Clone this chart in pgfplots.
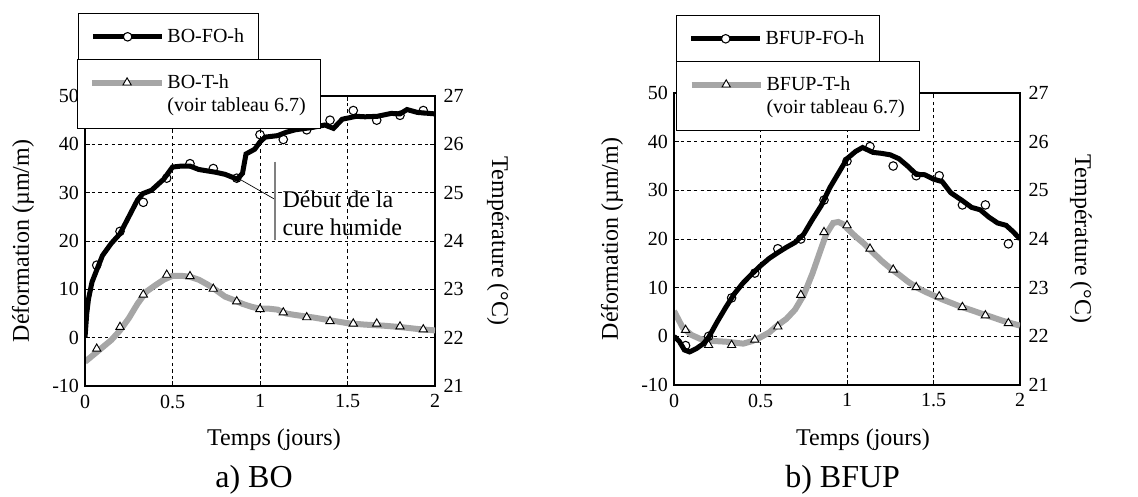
\documentclass[border=0pt]{standalone}
\usepackage{fontspec}
\setmainfont{Liberation Serif}
\usepackage{pgfplots}
\pgfplotsset{compat=1.18}
\definecolor{tgray}{RGB}{166,166,166}

% ---------- data (x in days) ----------
% BO: deformation (micro-strain)
\pgfplotstableread{
x y
0 0
0.01 5
0.02 8
0.04 11.5
0.067 14
0.1 17
0.15 19.5
0.2 21.5
0.25 25
0.3 28.5
0.33 29.8
0.38 30.5
0.45 32.8
0.5 35.3
0.55 35.5
0.6 35.5
0.65 34.8
0.7 34.5
0.75 34.2
0.8 33.8
0.87 32.8
0.9 34
0.92 38
0.97 39
1.0 40.5
1.03 41.5
1.1 41.8
1.15 42.5
1.2 43
1.3 43.5
1.37 44
1.42 43.3
1.47 45.2
1.55 45.8
1.6 45.7
1.67 45.8
1.75 46.4
1.8 46.3
1.84 47.2
1.9 46.6
2.0 46.3
}\BOdef
\pgfplotstableread{
x y
0.067 15
0.2 22
0.333 28
0.467 33
0.6 36
0.733 35
0.867 33
1.0 42
1.133 41
1.267 43
1.4 45
1.533 47
1.667 45
1.8 46
1.933 47
}\BOdefm
% BO: temperature (deg C)
\pgfplotstableread{
x t
0 21.5
0.05 21.65
0.1 21.8
0.15 21.95
0.2 22.15
0.25 22.4
0.3 22.7
0.35 22.95
0.4 23.08
0.45 23.2
0.5 23.28
0.55 23.28
0.6 23.26
0.65 23.2
0.7 23.1
0.75 22.98
0.8 22.85
0.85 22.78
0.9 22.7
0.95 22.64
1.0 22.6
1.05 22.6
1.1 22.58
1.15 22.5
1.2 22.47
1.3 22.42
1.4 22.36
1.5 22.3
1.6 22.27
1.7 22.25
1.8 22.22
1.9 22.18
2.0 22.15
}\BOtemp
\pgfplotstableread{
x t
0.067 21.77
0.2 22.22
0.333 22.89
0.467 23.3
0.6 23.27
0.733 23.01
0.867 22.75
1.0 22.59
1.133 22.52
1.267 22.42
1.4 22.34
1.533 22.29
1.667 22.29
1.8 22.23
1.933 22.17
}\BOtempm
% BFUP: deformation
\pgfplotstableread{
x y
0 0
0.03 -1
0.06 -2.8
0.09 -3.2
0.13 -2.5
0.17 -1.5
0.2 -0.2
0.25 3
0.3 6
0.35 8.8
0.4 11
0.45 12.8
0.5 14.5
0.55 16
0.6 17.2
0.65 18.3
0.7 19.3
0.75 21
0.8 24
0.85 26.8
0.9 30.5
0.95 33.5
1.0 36.5
1.05 38
1.09 38.8
1.15 37.8
1.2 37.6
1.25 37.3
1.3 36.5
1.35 35
1.4 33.3
1.45 33.2
1.5 32.3
1.55 31.8
1.6 29.5
1.67 27.8
1.72 26.5
1.77 26
1.82 24.5
1.87 23.3
1.92 22.8
1.96 21.5
2.0 20
}\BFdef
\pgfplotstableread{
x y
0.067 -1.9
0.2 0
0.333 7.9
0.467 13
0.6 18
0.733 20
0.867 28
1.0 36
1.133 39
1.267 35
1.4 33
1.533 33
1.667 27
1.8 27
1.933 19
}\BFdefm
% BFUP: temperature
\pgfplotstableread{
x t
0 22.52
0.05 22.18
0.1 22.03
0.15 21.95
0.2 21.91
0.3 21.89
0.35 21.87
0.4 21.85
0.45 21.9
0.5 21.98
0.55 22.08
0.6 22.23
0.65 22.36
0.7 22.55
0.75 22.85
0.8 23.29
0.85 23.8
0.88 24.1
0.92 24.33
0.95 24.35
0.98 24.3
1.0 24.22
1.05 24.05
1.1 23.9
1.15 23.72
1.2 23.55
1.25 23.4
1.3 23.27
1.35 23.13
1.4 23.01
1.45 22.92
1.5 22.84
1.55 22.76
1.6 22.69
1.65 22.62
1.7 22.56
1.75 22.5
1.8 22.44
1.85 22.38
1.9 22.32
1.95 22.27
2.0 22.22
}\BFtemp
\pgfplotstableread{
x t
0.067 22.13
0.2 21.82
0.333 21.82
0.467 21.93
0.6 22.2
0.733 22.85
0.867 24.14
1.0 24.28
1.133 23.8
1.267 23.37
1.4 23.01
1.533 22.82
1.667 22.6
1.8 22.43
1.933 22.27
}\BFtempm

\pgfplotsset{
  base/.style={
    scale only axis, xmin=0, xmax=2,
    /pgf/number format/assume math mode=true,
    tick label style={font=\fontsize{15}{17}\selectfont},
    label style={font=\fontsize{18}{20}\selectfont},
    axis line style={line width=0.9pt},
    major tick length=4pt,
    tick style={black, line width=0.6pt},
  },
  tempax/.style={base,
    ymin=21, ymax=27, ytick={21,22,...,27},
    xtick={0,0.5,1,1.5,2},
    yticklabel pos=right,
    xticklabel style={yshift=-3pt},
    yticklabel style={xshift=3pt},
    grid=major,
    grid style={black, line width=0.6pt, dash pattern=on 2.6pt off 2.4pt},
    xlabel={Temps (jours)},
    ylabel={Température (°C)},
  },
  defax/.style={base,
    ymin=-10, ymax=50, ytick={-10,0,...,50},
    hide x axis, axis y line*=left,
    yticklabel style={xshift=-1pt},
    ylabel={Déformation (µm/m)},
  },
  legbase/.style={
    legend cell align=left,
    legend style={draw=black, line width=0.7pt, fill=white,
      font=\fontsize{15}{17}\selectfont, anchor=north west,
      inner xsep=9pt, inner ysep=9.5pt, row sep=1pt},
    legend image code/.code={\draw[mark repeat=2,mark phase=2,##1] plot coordinates {(0pt,0pt) (26pt,0pt) (52pt,0pt)};},
  },
  blk/.style={black, line width=3.75pt},
  gry/.style={tgray, line width=4.5pt},
  cmk/.style={only marks, mark=o, mark size=3.2pt, mark options={draw=black, fill=white, line width=0.8pt}},
  tmk/.style={only marks, mark=triangle*, mark size=3.6pt, mark options={draw=black, fill=white, line width=0.7pt}},
}

\begin{document}
\begin{tikzpicture}
\useasboundingbox (0,0) rectangle (853.5pt,-372pt);

% ================= a) BO =================
\begin{axis}[tempax, at={(63.75pt,-289.5pt)}, anchor=south west,
  width=262.5pt, height=217.5pt,
  xlabel style={at={(axis description cs:0.54,0)}, anchor=center, yshift=-40.5pt},
  ylabel style={at={(axis description cs:1.18,0.5)}, anchor=center, rotate=180}]
  \addplot[gry, forget plot] table[x=x,y=t]{\BOtemp};
  \addplot[tmk, forget plot] table[x=x,y=t]{\BOtempm};
\end{axis}
\begin{axis}[defax, legbase, at={(63.75pt,-289.5pt)}, anchor=south west,
  width=262.5pt, height=217.5pt,
  ylabel style={at={(axis description cs:-0.177,0.5)}, anchor=center},
  legend style={at={(axis description cs:-0.02,1.286)}}]
  \addplot[blk, forget plot] table[x=x,y=y]{\BOdef};
  \addplot[cmk, forget plot] table[x=x,y=y]{\BOdefm};
  \addlegendimage{black, line width=3.75pt, mark=*, mark size=3.2pt, mark options={draw=black, fill=white, line width=0.8pt}}
  \addlegendentry{BO-FO-h}
  \draw[black, line width=0.5pt] (axis cs:0.869,33.1) -- (axis cs:1.086,28.6);
  \draw[gray, line width=1pt] (axis cs:1.086,36.4) -- (axis cs:1.086,20.3);
  \node[anchor=west, font=\fontsize{18}{20}\selectfont, inner sep=1pt] at (axis cs:1.12,28.6) {Début de la};
  \node[anchor=west, font=\fontsize{18}{20}\selectfont, inner sep=1pt] at (axis cs:1.12,22.8) {cure humide};
\end{axis}
\begin{axis}[base, legbase, hide axis, ymin=0, ymax=1, at={(63.75pt,-289.5pt)}, anchor=south west,
  width=262.5pt, height=217.5pt,
  legend style={at={(axis description cs:-0.023,1.128)}}]
  \addlegendimage{tgray, line width=4.5pt, mark=triangle*, mark size=3.6pt, mark options={draw=black, fill=white, line width=0.7pt}}
  \addlegendentry{BO-T-h}
  \addlegendimage{empty legend}
  \addlegendentry{(voir tableau 6.7)}
\end{axis}
\node[font=\fontsize{24}{27}\selectfont, anchor=base] at (190.5pt,-365.5pt) {a) BO};

% ================= b) BFUP =================
\begin{axis}[tempax, at={(505.5pt,-288.75pt)}, anchor=south west,
  width=259.5pt, height=219pt,
  xlabel style={at={(axis description cs:0.546,0)}, anchor=center, yshift=-41pt},
  ylabel style={at={(axis description cs:1.176,0.5)}, anchor=center, rotate=180}]
  \addplot[gry, forget plot] table[x=x,y=t]{\BFtemp};
  \addplot[tmk, forget plot] table[x=x,y=t]{\BFtempm};
\end{axis}
\begin{axis}[defax, legbase, at={(505.5pt,-288.75pt)}, anchor=south west,
  width=259.5pt, height=219pt,
  ylabel style={at={(axis description cs:-0.179,0.5)}, anchor=center},
  legend style={at={(axis description cs:0.006,1.267)}}]
  \addplot[blk, forget plot] table[x=x,y=y]{\BFdef};
  \addplot[cmk, forget plot] table[x=x,y=y]{\BFdefm};
  \addlegendimage{black, line width=3.75pt, mark=*, mark size=3.2pt, mark options={draw=black, fill=white, line width=0.8pt}}
  \addlegendentry{BFUP-FO-h}
\end{axis}
\begin{axis}[base, legbase, hide axis, ymin=0, ymax=1, at={(505.5pt,-288.75pt)}, anchor=south west,
  width=259.5pt, height=219pt,
  legend style={at={(axis description cs:0.006,1.11)}}]
  \addlegendimage{tgray, line width=4.5pt, mark=triangle*, mark size=3.6pt, mark options={draw=black, fill=white, line width=0.7pt}}
  \addlegendentry{BFUP-T-h}
  \addlegendimage{empty legend}
  \addlegendentry{(voir tableau 6.7)}
\end{axis}
\node[font=\fontsize{24}{27}\selectfont, anchor=base] at (632pt,-365.5pt) {b) BFUP};
\end{tikzpicture}
\end{document}
